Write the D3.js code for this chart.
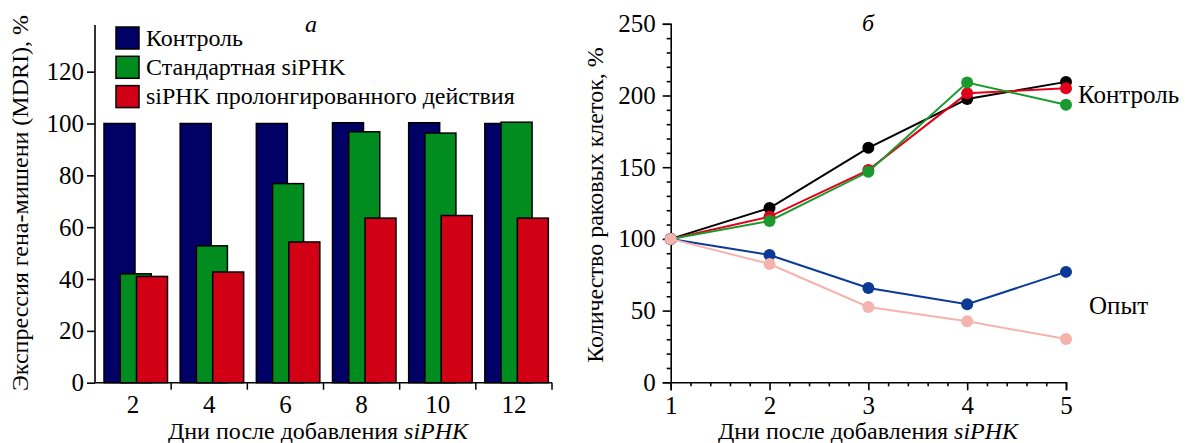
<!DOCTYPE html>
<html>
<head>
<meta charset="utf-8">
<script src="https://cdn.jsdelivr.net/npm/d3@7"></script>
<style>
  body { margin: 0; background: #fff; }
  svg text { font-family: 'Liberation Serif', 'DejaVu Serif', serif; }
</style>
</head>
<body>
<svg width="1187" height="443"></svg>
<script>
// panel a: target gene expression
const days = ['2', '4', '6', '8', '10', '12']
const barSeries = ['Контроль', 'Стандартная siPHK', 'siPHK пролонгированного действия']
const barColors = ['#000066', '#008c1e', '#d10014']
const control = [100, 100, 100, 100.3, 100.3, 100]
const standard = [42, 52.8, 76.8, 96.8, 96.3, 100.5]
const prolonged = [41, 42.7, 54.3, 63.5, 64.5, 63.5]
const leftTicks = [0, 20, 40, 60, 80, 100, 120]

// panel b: cancer cell count
const dayNums = [1, 2, 3, 4, 5]
const lineColors = ['#000000', '#e2001a', '#1a9a2e', '#0a3a96', '#f5b3ae']
const ctrlBlack = [100, 121.5, 163.5, 197.5, 209.5]
const ctrlRed = [100, 115.5, 148, 201.5, 205]
const ctrlGreen = [100, 112.5, 146.8, 209, 193.5]
const expBlue = [100, 88.8, 65.8, 54.4, 77]
const expPink = [100, 82.5, 52.5, 42.5, 30.2]
const rightTicks = [0, 50, 100, 150, 200, 250]

const FONT = "'Liberation Serif', 'DejaVu Serif', serif"
const svg = d3.select('svg').attr('font-family', FONT)
const FS = 24

// ---------- panel a ----------
const xBand = d3.scaleBand().domain(days).range([95, 552])
const yLeft = d3.scaleLinear().domain([0, 138]).range([382.7, 25])
// offsets of the three overlapping bars inside one day group
const sub = d3.scalePoint().domain([0, 1, 2]).range([9, 41.5])
const barW = 31

const barData = [control, standard, prolonged]
barData.forEach((vals, si) => {
  svg.append('g')
    .selectAll('rect')
    .data(vals)
    .join('rect')
    .attr('x', (d, i) => xBand(days[i]) + sub(si))
    .attr('y', (d) => yLeft(d))
    .attr('width', barW)
    .attr('height', (d) => yLeft(0) - yLeft(d))
    .attr('fill', barColors[si])
    .attr('stroke', '#000')
    .attr('stroke-width', 1.5)
})

const yAxisL = svg.append('g')
  .attr('transform', `translate(${xBand.range()[0]},0)`)
  .call(d3.axisLeft(yLeft).tickValues(leftTicks).tickSize(8).tickPadding(3))
yAxisL.select('.domain').attr('d', `M0,${yLeft(0)}V${yLeft.range()[1]}`)

const xAxisL = svg.append('g')
  .attr('transform', `translate(0,${yLeft(0)})`)
  .call(d3.axisBottom(xBand).tickSize(0).tickPadding(13))
xAxisL.select('.domain').attr('d', `M${xBand.range()[0]},0H${xBand.range()[1]}`)
// group separators below the axis
xAxisL.selectAll('.sep')
  .data(days)
  .join('line')
  .attr('class', 'sep')
  .attr('x1', (d) => xBand(d) + xBand.bandwidth())
  .attr('x2', (d) => xBand(d) + xBand.bandwidth())
  .attr('y1', 0)
  .attr('y2', 7)
  .attr('stroke', '#000')
  .attr('stroke-width', 1.5)

// legend
const leg = svg.append('g')
barSeries.forEach((name, i) => {
  leg.append('rect')
    .attr('x', 116).attr('y', 27 + i * 29.3)
    .attr('width', 23).attr('height', 22)
    .attr('fill', barColors[i]).attr('stroke', '#000').attr('stroke-width', 1.5)
  leg.append('text')
    .attr('x', 146).attr('y', 45.5 + i * 29.3)
    .attr('font-size', 24)
    .text(name)
})

svg.append('text').attr('x', 311).attr('y', 32)
  .attr('font-size', FS).attr('font-style', 'italic').attr('text-anchor', 'middle').text('а')

svg.append('text')
  .attr('transform', 'translate(28,203) rotate(-90)')
  .attr('text-anchor', 'middle').attr('font-size', FS)
  .text('Экспрессия гена-мишени (MDRI), %')

const xtl = svg.append('text').attr('x', 318).attr('y', 439)
  .attr('text-anchor', 'middle').attr('font-size', FS)
xtl.append('tspan').text('Дни после добавления ')
xtl.append('tspan').attr('font-style', 'italic').text('siPHK')

// ---------- panel b ----------
const xR = d3.scaleLinear().domain([1, 5]).range([670.7, 1066])
const yR = d3.scaleLinear().domain([0, 250]).range([382.3, 23.8])

svg.append('g')
  .attr('transform', `translate(${xR(1)},0)`)
  .call(d3.axisLeft(yR).tickValues(rightTicks).tickSize(8).tickPadding(7))
svg.append('g')
  .attr('transform', `translate(${xR(1)},0)`)
  .call(d3.axisLeft(yR).tickValues(d3.range(0, 251, 10).filter((v) => v % 50)).tickSize(4).tickFormat(''))
  .select('.domain').remove()

svg.append('g')
  .attr('transform', `translate(0,${yR(0)})`)
  .call(d3.axisBottom(xR).tickValues(dayNums).tickSize(8).tickPadding(6).tickFormat(d3.format('d')))
svg.append('g')
  .attr('transform', `translate(0,${yR(0)})`)
  .call(d3.axisBottom(xR).tickValues(d3.range(1, 5.01, 0.2).filter((v) => Math.abs(v - Math.round(v)) > 0.01)).tickSize(4).tickFormat(''))
  .select('.domain').remove()

svg.selectAll('g[font-family]').attr('font-family', FONT)
svg.selectAll('.tick text').attr('font-size', 25).attr('fill', '#000')
svg.selectAll('.domain, .tick line').attr('stroke', '#000').attr('stroke-width', 1.6)

const line = d3.line().x((d, i) => xR(dayNums[i])).y((d) => yR(d))
const lineData = [ctrlBlack, ctrlRed, ctrlGreen, expBlue, expPink]
lineData.forEach((vals, si) => {
  const g = svg.append('g')
  g.append('path')
    .attr('d', line(vals))
    .attr('fill', 'none')
    .attr('stroke', lineColors[si])
    .attr('stroke-width', 2)
  g.selectAll('circle')
    .data(vals)
    .join('circle')
    .attr('cx', (d, i) => xR(dayNums[i]))
    .attr('cy', (d) => yR(d))
    .attr('r', 6)
    .attr('fill', lineColors[si])
})

svg.append('text').attr('x', 868).attr('y', 31)
  .attr('font-size', FS).attr('font-style', 'italic').attr('text-anchor', 'middle').text('б')
svg.append('text').attr('x', 1078).attr('y', 103).attr('font-size', 25).text('Контроль')
svg.append('text').attr('x', 1089).attr('y', 314).attr('font-size', 25).text('Опыт')

svg.append('text')
  .attr('transform', 'translate(603,205) rotate(-90)')
  .attr('text-anchor', 'middle').attr('font-size', FS)
  .text('Количество раковых клеток, %')

const xtr = svg.append('text').attr('x', 868).attr('y', 439)
  .attr('text-anchor', 'middle').attr('font-size', FS)
xtr.append('tspan').text('Дни после добавления ')
xtr.append('tspan').attr('font-style', 'italic').text('siPHK')
</script>
</body>
</html>
